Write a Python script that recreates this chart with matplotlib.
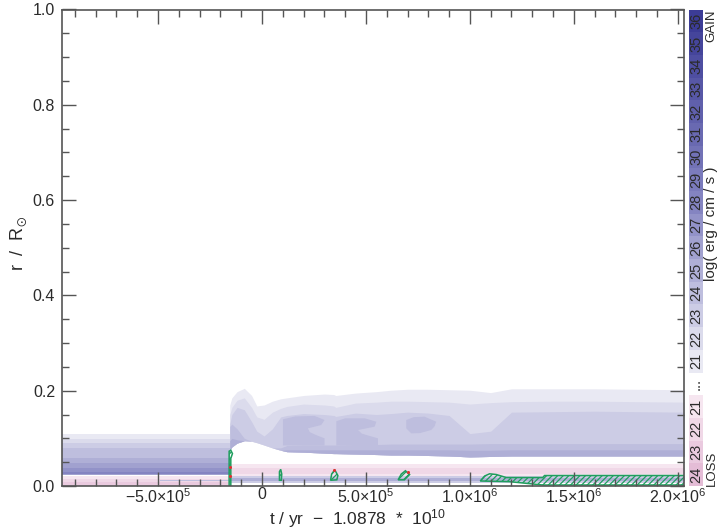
import numpy as np
import matplotlib
matplotlib.use("Agg")
import matplotlib.pyplot as plt
from matplotlib.colors import LinearSegmentedColormap
from matplotlib.ticker import MultipleLocator, FuncFormatter

# ---------------------------------------------------------------- data
X_LIMITS = [-9.62e5, 2.03e6]
Y_LIMITS = [0.0, 1.0]

# phase before the jump: flat layering (log eps levels and their outer radius)
t_pre = [-9.62e5, -1.55e5]
pre_gain_levels = [21, 22, 23, 24, 25, 26, 27, 28]
pre_gain_top = [0.1085, 0.0986, 0.0896, 0.0805, 0.058, 0.0476, 0.0385, 0.030]
pre_gain_bottom = [0.023, 0.023, 0.023, 0.023, 0.023, 0.024, 0.025, 0.026]
pre_loss_levels = [21, 22, 23]
pre_loss_top = [0.020, 0.015, 0.008]
pre_streak_t = [-4.9e5, -1.55e5]
pre_streak_r = [0.0095, 0.0125]

# phase after the jump: shell region sampled in time
t_post = [-1.55e5, -1.45e5, -1.2e5, -0.85e5, -0.5e5, -0.25e5, 0.1e5, 0.5e5,
          0.9e5, 1.2e5, 2.0e5, 3.0e5, 3.45e5, 3.55e5, 4.5e5, 5.5e5, 6.2e5,
          7.0e5, 8.0e5, 9.0e5, 10.0e5, 11.0e5, 12.0e5, 14.0e5, 16.0e5,
          18.0e5, 20.4e5]
shell_bottom = [0.075, 0.082, 0.090, 0.095, 0.094, 0.091, 0.086, 0.080, 0.075,
                0.072, 0.071, 0.069, 0.068, 0.068, 0.067, 0.066, 0.065, 0.065,
                0.064, 0.063, 0.061, 0.062, 0.063, 0.063, 0.063, 0.063, 0.063]
shell_top_21 = [0.170, 0.185, 0.198, 0.205, 0.190, 0.168, 0.170, 0.178, 0.183,
                0.185, 0.190, 0.193, 0.192, 0.190, 0.195, 0.198, 0.201, 0.203,
                0.203, 0.202, 0.201, 0.196, 0.204, 0.204, 0.204, 0.203, 0.202]
shell_top_22 = [0.150, 0.165, 0.180, 0.185, 0.165, 0.145, 0.140, 0.155, 0.163,
                0.167, 0.172, 0.170, 0.168, 0.165, 0.174, 0.176, 0.178, 0.178,
                0.177, 0.176, 0.172, 0.175, 0.177, 0.178, 0.178, 0.177, 0.176]
shell_top_23 = [0.130, 0.150, 0.165, 0.160, 0.135, 0.115, 0.105, 0.120, 0.145,
                0.148, 0.152, 0.150, 0.148, 0.146, 0.153, 0.150, 0.152, 0.155,
                0.153, 0.148, 0.110, 0.115, 0.155, 0.156, 0.157, 0.156, 0.155]
shell_top_24 = [0.125, 0.130, 0.120, 0.100, 0.094, 0.091, 0.086, 0.080, 0.080,
                0.085, 0.086, 0.086, 0.086, 0.086, 0.087, 0.087, 0.088, 0.088,
                0.088, 0.088, 0.088, 0.089, 0.089, 0.089, 0.089, 0.089, 0.089]
shell_top_25 = [0.095, 0.100, 0.097, 0.095, 0.094, 0.091, 0.086, 0.080, 0.075,
                0.076, 0.076, 0.076, 0.076, 0.076, 0.076, 0.076, 0.076, 0.076,
                0.076, 0.076, 0.075, 0.075, 0.076, 0.076, 0.076, 0.076, 0.076]

# level-24 pockets inside the shell
blobA_t = [1.01e5, 1.6e5, 2.53e5, 3.01e5, 2.85e5, 2.21e5, 2.3e5, 2.6e5, 3.01e5, 3.01e5, 1.01e5]
blobA_r = [0.140, 0.146, 0.147, 0.1385, 0.128, 0.121, 0.113, 0.107, 0.100, 0.085, 0.085]
blobB_t = [3.575e5, 4.0e5, 4.94e5, 5.50e5, 5.42e5, 4.62e5, 4.8e5, 5.1e5, 5.58e5, 5.58e5, 3.575e5]
blobB_r = [0.136, 0.142, 0.142, 0.135, 0.1245, 0.1175, 0.110, 0.106, 0.100, 0.085, 0.085]
blobC_t = [6.94e5, 7.3e5, 7.82e5, 8.38e5, 8.30e5, 8.14e5, 7.6e5, 7.18e5, 6.94e5]
blobC_r = [0.1385, 0.1445, 0.1455, 0.135, 0.125, 0.1175, 0.111, 0.1105, 0.121]

# thin layers near the centre after the jump
t_core = [-1.55e5, 2.04e6]
post_loss_levels = [21, 22]
post_loss_bottom = [0.022, 0.025]
post_loss_top = [0.046, 0.037]
post_gain_levels = [23, 25]
post_gain_bottom = [0.007, 0.0105]
post_gain_top = [0.022, 0.0178]

# convective zones (hatched)
conv1_t = [-1.58e5, -1.50e5, -1.50e5, -1.42e5, -1.50e5, -1.58e5]
conv1_r = [0.0, 0.0, 0.058, 0.068, 0.075, 0.073]
conv2_t = [0.84e5, 0.93e5, 0.95e5, 0.90e5, 0.84e5]
conv2_r = [0.012, 0.012, 0.025, 0.035, 0.030]
conv3_t = [3.30e5, 3.60e5, 3.65e5, 3.50e5, 3.35e5]
conv3_r = [0.012, 0.013, 0.022, 0.034, 0.025]
conv4_t = [6.55e5, 6.85e5, 7.10e5, 6.90e5, 6.70e5]
conv4_r = [0.013, 0.013, 0.024, 0.032, 0.025]
conv5_t = [10.50e5, 10.71e5, 10.95e5, 11.27e5, 11.75e5, 13.51e5, 13.59e5,
           20.40e5, 20.40e5, 13.51e5, 11.91e5, 10.50e5]
conv5_r = [0.0105, 0.021, 0.0256, 0.0241, 0.0178, 0.0178, 0.022,
           0.022, 0.0021, 0.0021, 0.0091, 0.0105]
dots_t = [-1.54e5, -1.54e5, 3.47e5, 7.00e5]
dots_r = [0.040, 0.022, 0.034, 0.029]

# colour-bar labels
gain_bar_levels = [36, 35, 34, 33, 32, 31, 30, 29, 28, 27, 26, 25, 24, 23, 22, 21]
loss_bar_levels = [21, 22, 23, 24]

# ---------------------------------------------------------------- style
plt.rcParams['font.family'] = ['Liberation Sans', 'DejaVu Sans']
plt.rcParams['mathtext.fontset'] = 'custom'
plt.rcParams['mathtext.rm'] = 'Liberation Sans'
plt.rcParams['mathtext.it'] = 'Liberation Sans:italic'
plt.rcParams['mathtext.bf'] = 'Liberation Sans:bold'
plt.rcParams['mathtext.default'] = 'regular'
plt.rcParams['hatch.linewidth'] = 0.9

TXT = '#2a2a2a'
AX = '#555555'
gain_cmap = LinearSegmentedColormap.from_list(
    'gain', [(0.0, '#e9e9f3'), (7 / 15, '#8484c1'), (1.0, '#3c3c96')])
loss_cmap = LinearSegmentedColormap.from_list('loss', ['#f6e6f0', '#e4bcd6'])


def gcol(level):
    return gain_cmap((level - 21) / 15)


def lcol(level):
    return loss_cmap((level - 21) / 3)


CONV = '#1f9e5e'

fig = plt.figure(figsize=(7.19, 5.30), dpi=100)
ax = fig.add_axes([62 / 719, 44 / 530, 622 / 719, 476.5 / 530])

# before jump
for lev, top, bot in zip(pre_gain_levels, pre_gain_top, pre_gain_bottom):
    ax.fill_between(t_pre, [bot, bot], [top, top], color=gcol(lev), lw=0)
for lev, top in zip(pre_loss_levels, pre_loss_top):
    ax.fill_between(t_pre, [0, 0], [top, top], color=lcol(lev), lw=0)
ax.fill_between(pre_streak_t, [pre_streak_r[0]] * 2, [pre_streak_r[1]] * 2,
                color=gcol(24), lw=0)

# after jump: shell
for lev, top in zip([21, 22, 23, 24], [shell_top_21, shell_top_22, shell_top_23, shell_top_24]):
    ax.fill_between(t_post, shell_bottom, top, color=gcol(lev), lw=0)
for bt, br in [(blobA_t, blobA_r), (blobB_t, blobB_r), (blobC_t, blobC_r)]:
    ax.fill(bt, br, color=gcol(24), lw=0)
ax.fill_between(t_post, shell_bottom, shell_top_25, color=gcol(25), lw=0)

# after jump: core layers
for lev, b, t in zip(post_loss_levels, post_loss_bottom, post_loss_top):
    ax.fill_between(t_core, [b, b], [t, t], color=lcol(lev), lw=0)
for lev, b, t in zip(post_gain_levels, post_gain_bottom, post_gain_top):
    ax.fill_between(t_core, [b, b], [t, t], color=gcol(lev), lw=0)

# convective zones
for ct, cr in [(conv1_t, conv1_r), (conv2_t, conv2_r), (conv3_t, conv3_r),
               (conv4_t, conv4_r), (conv5_t, conv5_r)]:
    ax.fill(ct, cr, facecolor='none', edgecolor=CONV, hatch='//////', lw=1.1)
ax.plot(dots_t, dots_r, 'o', color='#e03030', ms=2.2, mew=0, zorder=5)

ax.set_xlim(X_LIMITS)
ax.set_ylim(Y_LIMITS)
ax.xaxis.set_major_locator(MultipleLocator(5e5))
ax.xaxis.set_minor_locator(MultipleLocator(1e5))
ax.yaxis.set_major_locator(MultipleLocator(0.2))
ax.yaxis.set_minor_locator(MultipleLocator(0.05))


def xfmt(v, pos):
    if abs(v) < 1:
        return '0'
    e = int(np.floor(np.log10(abs(v))))
    m = v / 10 ** e
    s = '\u2212' if m < 0 else ''
    return f'{s}{abs(m):.1f}\u00d710$^{{{e}}}$'


ax.xaxis.set_major_formatter(FuncFormatter(xfmt))
ax.yaxis.set_major_formatter(FuncFormatter(lambda v, p: f'{v:.1f}'))
ax.tick_params(which='both', direction='in', top=True, right=True,
               color=AX, labelcolor=TXT, labelsize=11.5, width=1.0)
ax.tick_params(which='major', length=10)
ax.tick_params(axis='y', which='major', pad=5)
ax.tick_params(axis='x', which='major', pad=1)
ax.tick_params(which='minor', length=5)
for sp in ax.spines.values():
    sp.set_color(AX)
    sp.set_linewidth(1.2)

fig.text(19 / 719, 1 - 243 / 530, r'r  /  R$_{\odot}$', rotation=90,
         ha='center', va='center', fontsize=13, color=TXT)
fig.text(358 / 719, 1 - 519 / 530, 't / yr  \u2212  1.0878  *  10$^{10}$',
         ha='center', va='center', fontsize=12.5, color=TXT)

# colour bar
cax = fig.add_axes([689 / 719, 44 / 530, 14 / 719, 476.5 / 530])
labels = [str(v) for v in gain_bar_levels] + ['...'] + [str(v) for v in loss_bar_levels]
colors = [gcol(v) for v in gain_bar_levels] + ['white'] + [lcol(v) for v in loss_bar_levels]
n = len(labels)
cax.barh(np.arange(n), [1] * n, height=1.0, left=0, color=colors, lw=0)
cax.set_ylim(n - 0.5, -0.5)
cax.set_xlim(0, 1)
cax.axis('off')
for i, lab in enumerate(labels):
    cax.text(0.5, i, lab, rotation=90, ha='center', va='center',
             fontsize=10.5, color=TXT)

fig.text(711.5 / 719, 1 - 9 / 530, 'GAIN', rotation=90, ha='center', va='top',
         fontsize=9.5, color=TXT)
fig.text(711.5 / 719, 1 - 486 / 530, 'LOSS', rotation=90, ha='center', va='bottom',
         fontsize=9.5, color=TXT)
fig.text(711.5 / 719, 1 - 224 / 530, 'log( erg / cm / s )', rotation=90,
         ha='center', va='center', fontsize=11, color=TXT)

fig.savefig('out.png', dpi=100)
